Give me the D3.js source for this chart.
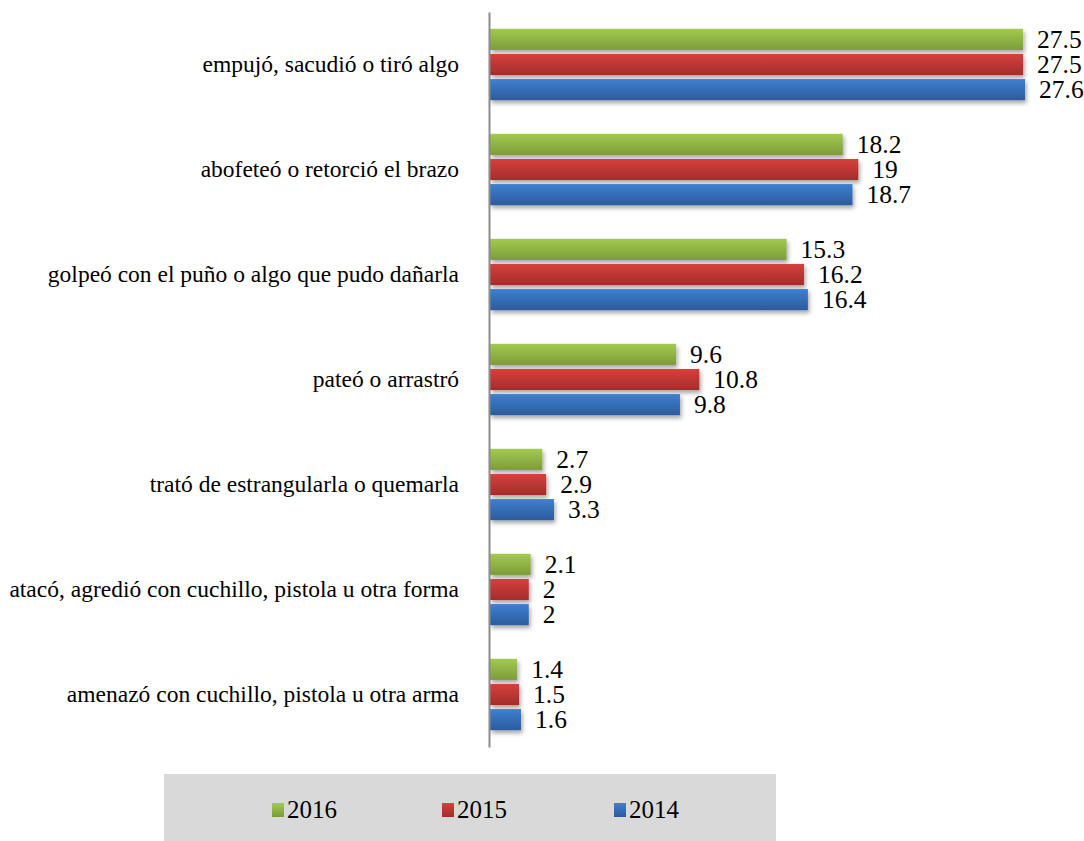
<!DOCTYPE html>
<html><head><meta charset="utf-8">
<script src="https://cdn.jsdelivr.net/npm/d3@7"></script>
<style>body{margin:0;background:#fff}svg{display:block}svg text{font-family:'Liberation Serif','Times New Roman',serif !important}</style>
</head><body>
<svg id="c" width="1084" height="841"></svg>
<script>
const categories = [
  "empujó, sacudió o tiró algo",
  "abofeteó o retorció el brazo",
  "golpeó con el puño o algo que pudo dañarla",
  "pateó o arrastró",
  "trató de estrangularla o quemarla",
  "atacó, agredió con cuchillo, pistola u otra forma",
  "amenazó con cuchillo, pistola u otra arma"
];
const seriesNames = ["2016", "2015", "2014"];
const values2016 = [27.5, 18.2, 15.3, 9.6, 2.7, 2.1, 1.4];
const values2015 = [27.5, 19, 16.2, 10.8, 2.9, 2, 1.5];
const values2014 = [27.6, 18.7, 16.4, 9.8, 3.3, 2, 1.6];
const valueLabels2016 = ["27.5","18.2","15.3","9.6","2.7","2.1","1.4"];
const valueLabels2015 = ["27.5","19","16.2","10.8","2.9","2","1.5"];
const valueLabels2014 = ["27.6","18.7","16.4","9.8","3.3","2","1.6"];

const series = [values2016, values2015, values2014];
const labels = [valueLabels2016, valueLabels2015, valueLabels2014];
const colors = [
  ["#a3cb4e", "#7c9b3b"],
  ["#d6403d", "#a32d2b"],
  ["#3d80d2", "#2c5b9b"]
];
const FONT = "'Liberation Serif', 'Times New Roman', serif";

const svg = d3.select("#c");
const axisX = 489, plotTop = 12, plotBottom = 747;
const x = d3.scaleLinear().domain([0, 27.6]).range([axisX + 1, 1025]);
const y = d3.scaleBand().domain(categories).range([plotTop, plotBottom]).paddingInner(0.32).paddingOuter(0.16);
const yi = d3.scaleBand().domain(seriesNames).range([0, y.bandwidth()]).paddingInner(0.16);

const defs = svg.append("defs");
colors.forEach((c, i) => {
  const g = defs.append("linearGradient").attr("id", "g" + i).attr("x1", 0).attr("y1", 0).attr("x2", 0).attr("y2", 1);
  g.append("stop").attr("offset", "0%").attr("stop-color", c[0]);
  g.append("stop").attr("offset", "100%").attr("stop-color", c[1]);
});
const f = defs.append("filter").attr("id", "sh").attr("x", "-10%").attr("y", "-30%").attr("width", "130%").attr("height", "180%");
f.append("feDropShadow").attr("dx", 1.5).attr("dy", 3).attr("stdDeviation", 2).attr("flood-color", "#000").attr("flood-opacity", 0.35);

// legend background
svg.append("rect").attr("x", 164).attr("y", 774).attr("width", 612).attr("height", 67).attr("fill", "#d9d9d9");

const groups = svg.append("g").selectAll("g").data(categories).join("g")
  .attr("transform", d => `translate(0,${y(d)})`);

seriesNames.forEach((s, si) => {
  groups.append("rect")
    .attr("x", x(0))
    .attr("y", yi(s))
    .attr("width", (d, i) => x(series[si][i]) - x(0))
    .attr("height", yi.bandwidth())
    .attr("fill", `url(#g${si})`)
    .attr("filter", "url(#sh)");
  groups.append("text")
    .attr("x", (d, i) => x(series[si][i]) + 14)
    .attr("y", yi(s) + yi.bandwidth() / 2)
    .attr("dy", "0.34em")
    .style("font-family", FONT, "important")
    .style("font-size", "25.5px")
    .attr("fill", "#000")
    .text((d, i) => labels[si][i]);
});

// category labels
groups.append("text")
  .attr("x", axisX - 30)
  .attr("y", y.bandwidth() / 2)
  .attr("dy", "0.34em")
  .attr("text-anchor", "end")
  .style("font-family", FONT, "important")
  .style("font-size", "23.5px")
  .attr("fill", "#000")
  .text(d => d);

// axis line
const axis = d3.axisLeft(y).tickSize(0).tickFormat("");
svg.append("g").attr("transform", `translate(${axisX},0)`).call(axis)
  .call(g => g.select(".domain").attr("stroke", "#8c8c8c").attr("stroke-width", 2));

// legend
const legendX = [272, 442, 614];
const lg = svg.append("g").selectAll("g").data(seriesNames).join("g")
  .attr("transform", (d, i) => `translate(${legendX[i]},803)`);
lg.append("rect").attr("width", 12).attr("height", 14).attr("fill", (d, i) => `url(#g${i})`);
lg.append("text").attr("x", 15).attr("y", 15)
  .style("font-family", FONT, "important")
  .style("font-size", "25px").attr("fill", "#000").text(d => d);
</script>
</body></html>
